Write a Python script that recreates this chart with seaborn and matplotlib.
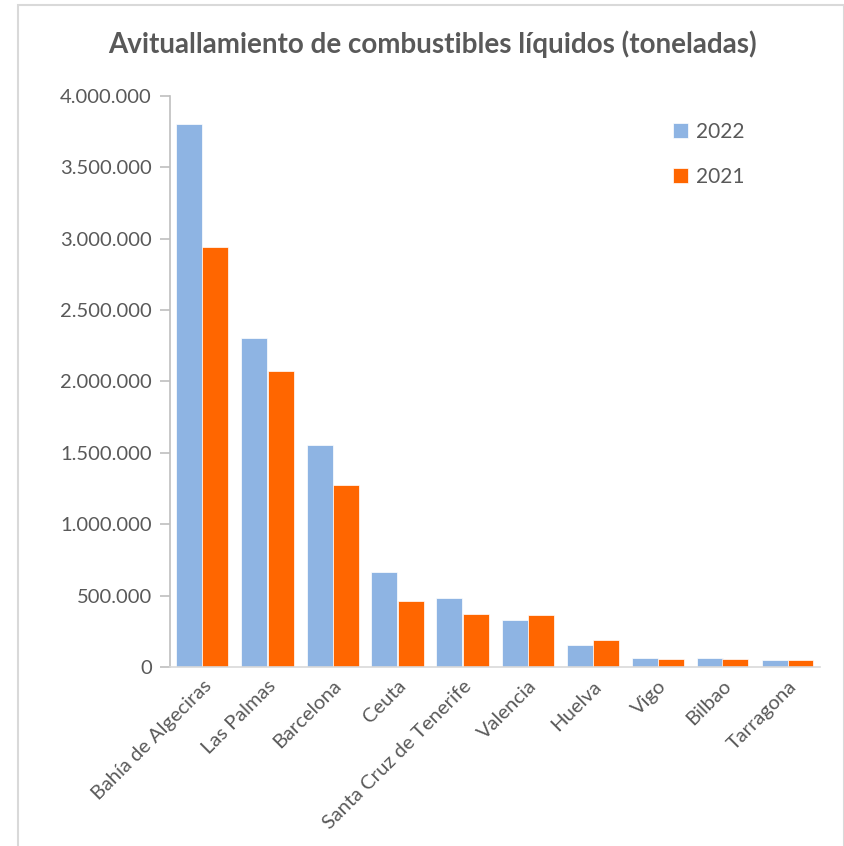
import pandas as pd
import numpy as np
import matplotlib
matplotlib.use("Agg")
import matplotlib.pyplot as plt
import matplotlib.ticker as mticker
from matplotlib.patches import Rectangle
import seaborn as sns

# ---- data (toneladas) ----
ports = ["Bahía de Algeciras", "Las Palmas", "Barcelona", "Ceuta",
         "Santa Cruz de Tenerife", "Valencia", "Huelva", "Vigo",
         "Bilbao", "Tarragona"]
v2022 = [3804000, 2305000, 1553000, 663000, 483000, 329000, 152000, 63000, 61000, 52000]
v2021 = [2940000, 2074000, 1275000, 460000, 369000, 367000, 187000, 59000, 57000, 49000]
years = ["2022", "2021"]
colors = {"2022": "#8EB4E3", "2021": "#FF6600"}

df = pd.DataFrame({
    "Puerto": ports * 2,
    "Año": ["2022"] * len(ports) + ["2021"] * len(ports),
    "Toneladas": v2022 + v2021,
})

sns.set_style("white")
plt.rcParams["font.family"] = ["Lato", "DejaVu Sans"]
txt = "#595959"

W, H = 845, 846
fig = plt.figure(figsize=(W / 100, H / 100), dpi=100)
ax = fig.add_axes([170 / W, (H - 667) / H, 650 / W, (667 - 96) / H])

sns.barplot(data=df, x="Puerto", y="Toneladas", hue="Año", hue_order=years,
            palette=colors, width=0.8, saturation=1, edgecolor="white",
            linewidth=0.5, ax=ax)

ax.set_ylim(0, 4000000)
ax.set_xlim(-0.5, len(ports) - 0.5)
ax.yaxis.set_major_locator(mticker.MultipleLocator(500000))
ax.yaxis.set_major_formatter(mticker.FuncFormatter(lambda v, p: f"{int(v):,}".replace(",", ".")))
ax.set_xlabel("")
ax.set_ylabel("")

for s in ["top", "right"]:
    ax.spines[s].set_visible(False)
ax.spines["left"].set_color("#BFBFBF")
ax.spines["bottom"].set_color("#D9D9D9")
ax.spines["left"].set_linewidth(1.2)
ax.spines["bottom"].set_linewidth(1.2)

ax.tick_params(axis="y", left=True, length=7, width=1.2, color="#BFBFBF",
               labelsize=14.5, labelcolor=txt, pad=6)
ax.tick_params(axis="x", bottom=False, labelsize=14.5, labelcolor=txt, pad=4)
plt.setp(ax.get_xticklabels(), rotation=45, ha="right", rotation_mode="anchor")

ax.legend(loc="upper left", bbox_to_anchor=(0.745, 0.988), frameon=False,
          fontsize=15, labelcolor=txt, handlelength=0.7, handleheight=0.7,
          handletextpad=0.4, labelspacing=1.2)

fig.text(432 / W, 1 - 44 / H, "Avituallamiento de combustibles líquidos (toneladas)",
         ha="center", va="center", fontsize=20, fontweight="bold", color=txt)

# light chart frame
fig.patches.append(Rectangle((18 / W, -0.01), (844 - 18) / W, 1 - 5 / H + 0.01,
                             transform=fig.transFigure, fill=False,
                             edgecolor="#D9D9D9", linewidth=1.5))

fig.savefig("out.png", dpi=100)
